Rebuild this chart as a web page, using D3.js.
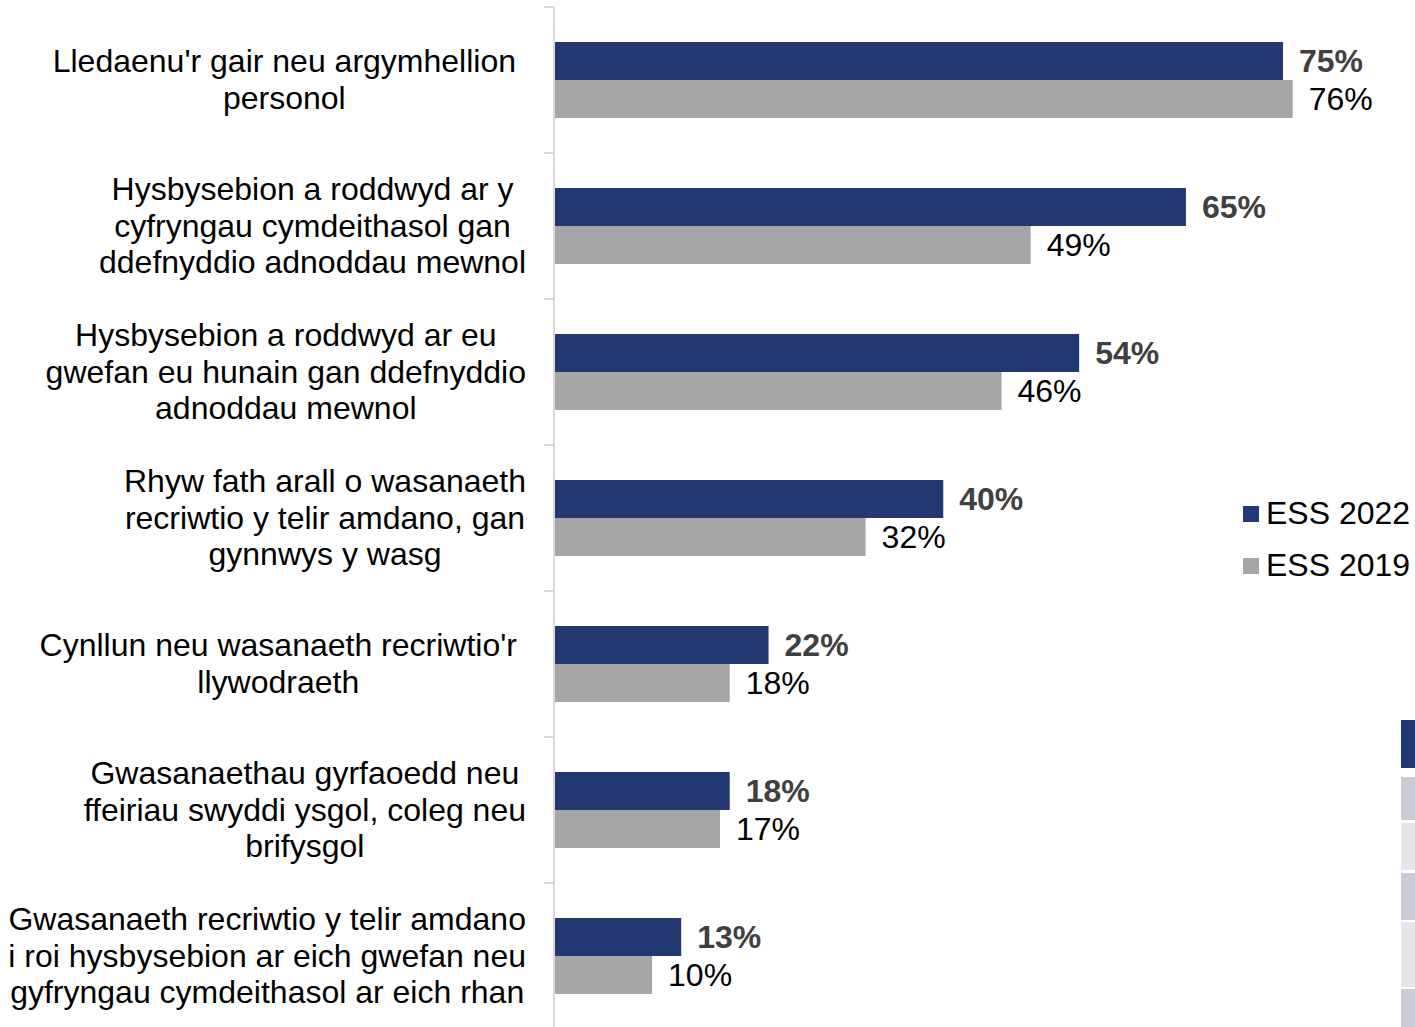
<!DOCTYPE html>
<html><head><meta charset="utf-8">
<script src="https://cdn.jsdelivr.net/npm/d3@7"></script>
<style>body{margin:0;background:#fff;overflow:hidden}svg{display:block;font-family:Arial,"Liberation Sans",sans-serif}</style>
</head><body>
<svg id="c" width="1415" height="1027"></svg>
<script>
const categories = [
  ["Lledaenu'r gair neu argymhellion","personol"],
  ["Hysbysebion a roddwyd ar y","cyfryngau cymdeithasol gan","ddefnyddio adnoddau mewnol"],
  ["Hysbysebion a roddwyd ar eu","gwefan eu hunain gan ddefnyddio","adnoddau mewnol"],
  ["Rhyw fath arall o wasanaeth","recriwtio y telir amdano, gan","gynnwys y wasg"],
  ["Cynllun neu wasanaeth recriwtio'r","llywodraeth"],
  ["Gwasanaethau gyrfaoedd neu","ffeiriau swyddi ysgol, coleg neu","brifysgol"],
  ["Gwasanaeth recriwtio y telir amdano","i roi hysbysebion ar eich gwefan neu","gyfryngau cymdeithasol ar eich rhan"]
];
const series = ["ESS 2022","ESS 2019"];
const ess2022 = [75,65,54,40,22,18,13];
const ess2019 = [76,49,46,32,18,17,10];

// layout: right edge offset of each label block
const labelRightInset = [10,0,0,0,9,0,0];

const colors = {"ESS 2022":"#233870","ESS 2019":"#a6a6a6"};
const svg = d3.select("#c");
const x0 = 555;
const x = d3.scaleLinear().domain([0,75]).range([x0,1283]);
const y = d3.scaleBand().domain(d3.range(categories.length)).range([7,7+146*7]).padding(0);
const inner = d3.scaleBand().domain(series).range([35,35+76]).padding(0);

// axis
svg.append("line").attr("x1",554).attr("x2",554).attr("y1",7).attr("y2",1027).attr("stroke","#d9d9d9").attr("stroke-width",2);
svg.selectAll(".tk").data(d3.range(categories.length+1)).join("line")
  .attr("x1",544).attr("x2",554).attr("y1",d=>7+146*d).attr("y2",d=>7+146*d)
  .attr("stroke","#d9d9d9").attr("stroke-width",2);

const vals = {"ESS 2022":ess2022,"ESS 2019":ess2019};
series.forEach(s=>{
  const g = svg.append("g");
  g.selectAll("rect").data(vals[s]).join("rect")
    .attr("x",x0).attr("y",(d,i)=>y(i)+inner(s)).attr("width",d=>x(d)-x0).attr("height",inner.bandwidth())
    .attr("fill",colors[s]);
  g.selectAll("text").data(vals[s]).join("text")
    .attr("x",d=>x(d)+16).attr("y",(d,i)=>y(i)+inner(s)+inner.bandwidth()/2)
    .attr("dy","0.33em").attr("font-size",32)
    .attr("font-weight",s==="ESS 2022"?"bold":"normal")
    .attr("fill",s==="ESS 2022"?"#404040":"#000")
    .text(d=>d+"%");
});

// category labels
categories.forEach((lines,i)=>{
  const g = svg.append("g");
  const cy = y(i)+y.bandwidth()/2;
  const lh = 36.7;
  const t = g.selectAll("text").data(lines).join("text")
    .attr("y",(d,j)=>cy+(j-(lines.length-1)/2)*lh).attr("dy","0.33em")
    .attr("font-size",32).attr("fill","#000").attr("text-anchor","middle").text(d=>d);
  let mw=0; t.each(function(){mw=Math.max(mw,this.getComputedTextLength());});
  t.attr("x",526-labelRightInset[i]-mw/2);
});

// legend
const lg = svg.append("g");
series.forEach((s,i)=>{
  lg.append("rect").attr("x",1243).attr("y",506+i*52).attr("width",16).attr("height",16).attr("fill",colors[s]);
  lg.append("text").attr("x",1266).attr("y",513+i*52).attr("dy","0.33em").attr("font-size",32).attr("fill","#000").text(s);
});

// cut-off table fragment at right edge
const frag = [[720,768,"#233870"],[777,820,"#c9ccd4"],[823,870,"#e6e6ea"],[873,920,"#c9ccd4"],[922,987,"#e6e6ea"],[989,1027,"#c9ccd4"]];
svg.selectAll(".frag").data(frag).join("rect").attr("x",1401).attr("width",14)
  .attr("y",d=>d[0]).attr("height",d=>d[1]-d[0]).attr("fill",d=>d[2]);
</script>
</body></html>
